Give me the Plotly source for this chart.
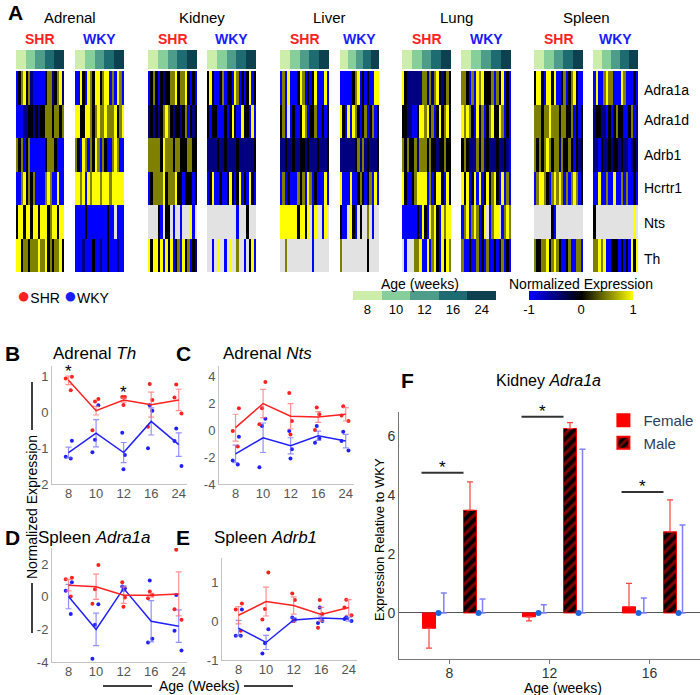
import numpy as np
import plotly.graph_objects as go

W, H = 700, 695
FONT = "Liberation Sans, Arial, sans-serif"

# ---------------- data ----------------
genes = ["Adra1a", "Adra1d", "Adrb1", "Hcrtr1", "Nts", "Th"]
tissues = ["Adrenal", "Kidney", "Liver", "Lung", "Spleen"]
strains = ["SHR", "WKY"]
ages = [8, 10, 12, 16, 24]
age_colors = ["#cdeeaa", "#86cf9b", "#4e9c8a", "#1e6b72", "#0e4150"]

# heatmap cell codes: B=-1, b=-0.5, k=0, o=0.5, Y=1, .=missing
code_values = {"B": -1.0, "b": -0.5, "k": 0.0, "o": 0.5, "Y": 1.0, ".": None}

heat_adrenal_shr = ["BkoYkobBBBBBkoobkoYb", "BBBbbkkbkbkkoookooko", "okoBkoBBBBBBkoookBBB",
                    "BBoYkokoBBBBoYoBBYBB", "kYYkYYkYYkYYYkoYYkYY", "YYkookoooYooYkokooYk"]
heat_adrenal_wky = ["BBYkBYokYYkoYYBoBYoB", "YYkkYYokoYooYoooYkoY", "okBYoBokYoBokBBoYoBB",
                    "YYoYBYoYYYoYYYoYYYYY", "BBBBkBBBBBBBBkBB.BBB", "BBBbBBBkBBbBBkBBBbBB"]
heat_kidney_shr = ["BkokBkbkkooYkooYkBkB", "bkbkbkoYokbkkbkoBkbk", "oooookYoookookkkookk",
                   "BkooooYkoooYkkBkkkBk", "....kB.kk.B..B...YB.", "YkYYkYBYkYBkoBYkoBkb"]
heat_kidney_wky = ["kYkBBkoBkkBYoBkBkYBk", "kBkkBBBkBkYkBBYkkBYB", "bbbbkbbkbbbbkbbbbbbk",
                   "BkYBBkBBkYkBkYBkBYkB", "............B...k...", "..B.Y..B.Y..o..B.kYB"]
heat_liver_shr = ["BoBYBBBkYoBkBkYBBBYB", "koB.BkBBkYoBkkoBBkBk", "bbkbbkbbkkbkbbbkbbbk",
                  "BoBkBBBokoBYoBkBBBYB", "YYYYYYYkYYkY.BY..BY.", "..o..........B......"]
heat_liver_wky = ["BBBBBkoYBkBkBBYY", "YkBYBYokBkoBkoBk", "bbbbbbkobobkbbbk",
                  "YBBBYBBkokBkoBYB", "kBB.YkB.k..o.B..", "o..........k...."]
heat_lung_shr = ["YkbbbbbbooboboYkbkok", "kkbbBBkYYoYkoBkYkoYk", "okokkoboookokkbkkokk",
                 "YkBBkoYYYYBoBkYYkBYk", "BBBBBBkBYkBYoYkBYoYY", ".B...ooYBBYBoYkBYkYo"]
heat_lung_wky = ["ookBoBYoYkkkoBokYBkB", "YoYokBYkoBkoYkkYoBkB", "kokbbbokobkbbbkbbkbB",
                 "YkYBkYBYBkYkoYkBYBoB", "BoYBoYoBkY.BoYY.BoYo", "oBBkBBoBkBoBBkBkoBkB"]
heat_spleen_shr = ["kYYkBYYkYBBkoBkoYkBB", "oookooYoookookkoBkBk", "okokoYokoobokkokBkbk",
                   "BoYYokBoYoYoBoBoYoBk", ".......kB...........", "okkooYkoYokBBkoBBooB"]
heat_spleen_wky = ["BYBBoYooBBBYoBBBkB", "bkkbbBkBkokkBBkoBb", "bbBkbbkbkkbkbbBbkb",
                   "BBYBBoBBYBBoBoBBkB", "k...............Y.", "ooYoYBBkkkBkBkBYkY"]

heat_blocks = {
    ("Adrenal", "SHR"): heat_adrenal_shr, ("Adrenal", "WKY"): heat_adrenal_wky,
    ("Kidney", "SHR"): heat_kidney_shr, ("Kidney", "WKY"): heat_kidney_wky,
    ("Liver", "SHR"): heat_liver_shr, ("Liver", "WKY"): heat_liver_wky,
    ("Lung", "SHR"): heat_lung_shr, ("Lung", "WKY"): heat_lung_wky,
    ("Spleen", "SHR"): heat_spleen_shr, ("Spleen", "WKY"): heat_spleen_wky,
}
expr_ticks = [-1, 0, 1]

# Panels B-E: mean, SE, individual points per age
b_shr_mean = [0.9, 0.05, 0.35, 0.22, 0.35]
b_shr_se = [0.12, 0.12, 0.06, 0.35, 0.3]
b_shr_pts = [[1.0, 0.95, 0.62], [0.38, 0.31, -0.5], [0.43, 0.43, 0.21], [0.8, 0.35, -0.4], [0.78, 0.42, -0.03]]
b_wky_mean = [-1.12, -0.58, -1.12, -0.25, -0.9]
b_wky_se = [0.15, 0.38, 0.28, 0.38, 0.33]
b_wky_pts = [[-0.79, -1.24, -1.29], [0.2, -0.76, -1.11], [-0.57, -1.19, -1.59], [0.2, 0.05, -1.0], [-0.45, -0.8, -1.5]]
b_sig_idx = [0, 2]
b_sig_y = [1.0, 0.43]

c_shr_mean = [0.2, 2.0, 1.05, 1.0, 1.2]
c_shr_se = [1.0, 1.05, 0.95, 0.4, 0.5]
c_shr_pts = [[1.65, -0.05, -1.2], [3.6, 1.65, 0.45], [2.78, 0.7, -0.3], [1.7, 1.2, 0.03], [1.8, 1.1, 0.7]]
c_wky_mean = [-1.75, -0.55, -1.15, -0.4, -0.8]
c_wky_se = [0.65, 1.1, 0.6, 0.35, 0.5]
c_wky_pts = [[-0.47, -2.25, -2.55], [0.87, 0.33, -2.75], [-0.05, -1.4, -2.1], [0.33, -0.6, -0.93], [-0.1, -0.8, -1.5]]

d_shr_mean = [0.72, 0.62, 0.1, 0.1, 0.18]
d_shr_se = [0.35, 0.77, 0.5, 0.12, 1.35]
d_shr_pts = [[1.18, 1.08, 0.02], [1.96, 0.47, -0.43], [0.9, -0.04, -0.6], [0.33, 0.12, -0.08], [2.9, -0.76, -1.4]]
d_wky_mean = [0.02, -2.0, 0.52, -1.5, -1.8]
d_wky_se = [0.75, 1.0, 0.15, 1.27, 1.0]
d_wky_pts = [[0.9, 0.37, -1.06], [-0.45, -1.71, -3.8], [0.63, 0.53, 0.43], [1.0, -2.57, -2.8], [0.12, -2.08, -3.3]]

e_shr_mean = [0.15, 0.5, 0.4, 0.17, 0.35]
e_shr_se = [0.22, 0.37, 0.22, 0.18, 0.2]
e_shr_pts = [[0.45, 0.3, -0.25], [1.25, 0.31, 0.04], [0.71, 0.54, 0.0], [0.54, 0.18, -0.17], [0.55, 0.35, 0.15]]
e_wky_mean = [-0.18, -0.55, 0.03, 0.08, 0.05]
e_wky_se = [0.2, 0.18, 0.05, 0.05, 0.05]
e_wky_pts = [[0.3, -0.38, -0.38], [-0.21, -0.57, -0.83], [0.09, 0.04, 0.0], [0.35, 0.0, -0.05], [0.1, 0.05, 0.0]]

# Panel F
f_ages = [8, 12, 16]
f_female = [-0.52, -0.13, 0.21]
f_female_err = [0.67, 0.14, 0.79]
f_male = [3.48, 6.25, 2.75]
f_male_err = [0.96, 0.2, 1.08]
f_wky_female_err = [0.68, 0.28, 0.51]
f_wky_male_err = [0.47, 5.55, 2.98]
f_sig_y = [4.75, 6.65, 4.1]

# ---------------- helpers ----------------
RED = "#ff2020"
BLUE = "#2020ff"
layout = {}
shapes = []
annotations = []
traces = []
_n = [0]


def new_axes(px0, px1, py0, py1, xa=None, ya=None):
    _n[0] += 1
    s = "" if _n[0] == 1 else str(_n[0])
    xa = dict(xa or {})
    ya = dict(ya or {})
    xa.update(domain=[px0 / W, px1 / W], anchor="y" + s)
    ya.update(domain=[1 - py1 / H, 1 - py0 / H], anchor="x" + s)
    layout["xaxis" + s] = xa
    layout["yaxis" + s] = ya
    return "x" + s, "y" + s


def text(x, y, t, size=14, color="black", xanchor="center", yanchor="middle", angle=0, **kw):
    annotations.append(dict(x=x / W, y=1 - y / H, xref="paper", yref="paper", text=t,
                            showarrow=False, xanchor=xanchor, yanchor=yanchor, textangle=angle,
                            font=dict(size=size, color=color, family=FONT), **kw))


def pline(x0, y0, x1, y1, color="black", width=1.5):
    shapes.append(dict(type="line", xref="paper", yref="paper", x0=x0 / W, x1=x1 / W,
                       y0=1 - y0 / H, y1=1 - y1 / H, line=dict(color=color, width=width)))


# ---------------- Panel A: heatmaps ----------------
block_px = {
    ("Adrenal", "SHR"): (16, 64), ("Adrenal", "WKY"): (75, 124),
    ("Kidney", "SHR"): (148, 197), ("Kidney", "WKY"): (207, 256),
    ("Liver", "SHR"): (280, 329), ("Liver", "WKY"): (340, 379),
    ("Lung", "SHR"): (402, 451), ("Lung", "WKY"): (461, 511),
    ("Spleen", "SHR"): (534, 583), ("Spleen", "WKY"): (593, 638),
}
heat_scale = [[0, "#0000ff"], [0.5, "#000000"], [1, "#ffff00"]]
age_scale = [[i / (len(age_colors) - 1), c] for i, c in enumerate(age_colors)]
hidden = dict(visible=False)

for (tissue, strain), rows in heat_blocks.items():
    x0, x1 = block_px[(tissue, strain)]
    z = [[code_values[c] for c in r] for r in rows]
    ncol = max(len(r) for r in rows)
    xr, yr = new_axes(x0, x1, 71, 272, dict(hidden, range=[-0.5, ncol - 0.5]),
                      dict(hidden, autorange="reversed"))
    shapes.append(dict(type="rect", xref=xr + " domain", yref=yr + " domain", x0=0, x1=1, y0=0, y1=1,
                       fillcolor="#e2e2e2", line_width=0, layer="below"))
    traces.append(go.Heatmap(z=z, y=genes, colorscale=heat_scale, zmin=-1, zmax=1, xaxis=xr, yaxis=yr,
                             showscale=False, hoverongaps=False))
    # age strip
    xr2, yr2 = new_axes(x0, x1, 50, 69, dict(hidden, range=[-0.5, 4.5]), dict(hidden))
    traces.append(go.Heatmap(z=[list(range(len(ages)))], colorscale=age_scale, zmin=0, zmax=len(ages) - 1,
                             showscale=False, xaxis=xr2, yaxis=yr2))
    text((x0 + x1) / 2, 39, "<b>%s</b>" % strain, size=14, color=RED if strain == "SHR" else "#1a1aff")

for tissue in tissues:
    xs = block_px[(tissue, "SHR")][0], block_px[(tissue, "WKY")][1]
    text((xs[0] + xs[1]) / 2, 17, tissue, size=15)

gene_y = [90, 120, 155, 188, 223, 259]
for g, gy in zip(genes, gene_y):
    text(642, gy, g, size=14, xanchor="left")

text(15, 12, "<b>A</b>", size=21)

legend_tick_font = dict(size=13, family=FONT, color="black")
# age legend
xr, yr = new_axes(353, 496, 291, 300,
                  dict(range=[-0.5, 4.5], tickvals=list(range(len(ages))), ticktext=[str(a) for a in ages],
                       ticks="", showline=False, showgrid=False, zeroline=False, tickfont=legend_tick_font),
                  dict(hidden))
traces.append(go.Heatmap(z=[list(range(len(ages)))], colorscale=age_scale, zmin=0, zmax=len(ages) - 1,
                         showscale=False, xaxis=xr, yaxis=yr))
text(420, 284, "Age (weeks)", size=14)

# expression colour key (smooth gradient between -1 and 1)
xr, yr = new_axes(529, 633, 291, 300,
                  dict(range=[expr_ticks[0], expr_ticks[-1]], tickvals=expr_ticks,
                       ticktext=[str(v) for v in expr_ticks], ticks="", showline=False, showgrid=False,
                       zeroline=False, tickfont=legend_tick_font),
                  dict(hidden))
traces.append(go.Heatmap(x=expr_ticks, z=[expr_ticks], colorscale=heat_scale, zmin=-1, zmax=1,
                         zsmooth="best", showscale=False, xaxis=xr, yaxis=yr))
text(581, 284, "Normalized Expression", size=14)

# SHR / WKY key
text(15, 296, '<span style="color:%s;font-size:22px">●</span>SHR '
              '<span style="color:#1a1aff;font-size:22px">●</span>WKY' % RED,
     size=14, xanchor="left")

# ---------------- Panels B-E ----------------
line_panels = [
    ("B", "Adrenal <i>Th</i>", (52, 187, 366, 484), [-2, 1.3], [-2, -1, 0, 1],
     (b_shr_mean, b_shr_se, b_shr_pts, b_wky_mean, b_wky_se, b_wky_pts), (12, 95, 353)),
    ("C", "Adrenal <i>Nts</i>", (219, 354, 366, 484), [-4, 4.8], [-4, -2, 0, 2, 4],
     (c_shr_mean, c_shr_se, c_shr_pts, c_wky_mean, c_wky_se, c_wky_pts), (183, 267, 353)),
    ("D", "Spleen <i>Adra1a</i>", (52, 187, 548, 662), [-4, 3.0], [-4, -2, 0, 2],
     (d_shr_mean, d_shr_se, d_shr_pts, d_wky_mean, d_wky_se, d_wky_pts), (12, 95, 537)),
    ("E", "Spleen <i>Adrb1</i>", (222, 357, 558, 660), [-1, 1.62], [-1, 0, 1],
     (e_shr_mean, e_shr_se, e_shr_pts, e_wky_mean, e_wky_se, e_wky_pts), (183, 265, 537)),
]
idx = list(range(len(ages)))
axis_common = dict(showline=True, linecolor="#c4c4c4", linewidth=1, ticks="", showgrid=False,
                   zeroline=False, tickfont=dict(size=13, family=FONT, color="#555"))
line_axes = {}
for lab, title, (x0, x1, y0, y1), yrng, yt, data, (lx, tx, ty) in line_panels:
    xr, yr = new_axes(x0, x1, y0, y1,
                      dict(axis_common, range=[-0.6, 4.3], tickvals=idx, ticktext=[str(a) for a in ages],
                           ticklabelstandoff=-3),
                      dict(axis_common, range=yrng, tickvals=yt, ticktext=[str(v) for v in yt]))
    line_axes[lab] = (xr, yr)
    s_mean, s_se, s_pts, w_mean, w_se, w_pts = data
    for mean, se, pts, col, ecol in [(w_mean, w_se, w_pts, BLUE, "rgba(110,110,255,0.75)"),
                                     (s_mean, s_se, s_pts, RED, "rgba(255,110,110,0.75)")]:
        px_ = [i for i, p in enumerate(pts) for _ in p]
        py_ = [v for p in pts for v in p]
        traces.append(go.Box(x=px_, y=py_, boxpoints="all", jitter=0.7, pointpos=0, width=0.45,
                             orientation="v", fillcolor="rgba(0,0,0,0)", line=dict(color="rgba(0,0,0,0)"),
                             marker=dict(color=col, size=4), showlegend=False, xaxis=xr, yaxis=yr))
        traces.append(go.Scatter(x=idx, y=mean, mode="lines", line=dict(color=col, width=1.5),
                                 error_y=dict(type="data", array=se, color=ecol, thickness=1.2, width=3),
                                 showlegend=False, xaxis=xr, yaxis=yr))
    text(lx, ty, "<b>%s</b>" % lab, size=21)
    text(tx, ty, title, size=17)

xr, yr = line_axes["B"]
for i, yv in zip(b_sig_idx, b_sig_y):
    annotations.append(dict(x=i, y=yv, xref=xr, yref=yr, text="*", showarrow=False, yanchor="middle",
                            yshift=5, font=dict(size=17, family=FONT, color="black")))

text(32, 507, "Normalized Expression", size=14, angle=-90)
pline(32, 382, 32, 430)
pline(32, 583, 32, 633)
text(199, 686, "Age (Weeks)", size=14)
pline(103, 686, 152, 686)
pline(244, 686, 293, 686)

# ---------------- Panel F ----------------
fx = np.arange(len(f_ages))
xr, yr = new_axes(399, 700, 412, 659,
                  dict(range=[-0.505, 2.505], tickvals=list(fx), ticktext=[str(a) for a in f_ages],
                       showline=True, linecolor="#777", ticks="outside", ticklen=4, tickcolor="#777",
                       ticklabelstandoff=-3,
                       showgrid=False, zeroline=False, tickfont=dict(size=14, family=FONT, color="#333")),
                  dict(range=[-1.56, 6.81], tickvals=[0, 2, 4, 6], showline=True, linecolor="#777",
                       ticks="", showgrid=False, zeroline=True, zerolinecolor="#555", zerolinewidth=1,
                       tickfont=dict(size=14, family=FONT, color="#333")))


def up_only(vals, errs):
    return [e if v >= 0 else 0 for v, e in zip(vals, errs)]


def down_only(vals, errs):
    return [e if v < 0 else 0 for v, e in zip(vals, errs)]


traces.append(go.Bar(x=fx, y=f_female, width=0.13, offset=-0.27, name="Female",
                     marker=dict(color="#ff0000", line=dict(color="#ff0000", width=1)),
                     error_y=dict(type="data", symmetric=False, array=up_only(f_female, f_female_err),
                                  arrayminus=down_only(f_female, f_female_err), color="#ff4040",
                                  thickness=1.2, width=3),
                     xaxis=xr, yaxis=yr))
traces.append(go.Bar(x=fx, y=f_male, width=0.13, offset=0.14, name="Male",
                     marker=dict(color="black", line=dict(color="#ff0000", width=1),
                                 pattern=dict(shape="/", fgcolor="#ff0000", bgcolor="black", size=7,
                                              solidity=0.45)),
                     error_y=dict(type="data", symmetric=False, array=up_only(f_male, f_male_err),
                                  arrayminus=down_only(f_male, f_male_err), color="#ff4040",
                                  thickness=1.2, width=3),
                     xaxis=xr, yaxis=yr))
zeros = [0] * len(f_ages)
for off_dot, off_err, errs in [(-0.11, -0.057, f_wky_female_err), (0.29, 0.33, f_wky_male_err)]:
    traces.append(go.Scatter(x=fx + off_err, y=zeros, mode="markers", marker=dict(size=1, color="rgba(0,0,0,0)"),
                             error_y=dict(type="data", symmetric=False, array=errs, arrayminus=zeros,
                                          color="#8080ff", thickness=1.5, width=3),
                             showlegend=False, xaxis=xr, yaxis=yr))
    traces.append(go.Scatter(x=fx + off_dot, y=zeros, mode="markers", marker=dict(size=6, color="#1f66d6"),
                             showlegend=False, xaxis=xr, yaxis=yr))
for i, sy in enumerate(f_sig_y):
    traces.append(go.Scatter(x=[i - 0.28, i + 0.14], y=[sy, sy], mode="lines",
                             line=dict(color="#333", width=2), showlegend=False, xaxis=xr, yaxis=yr))
    annotations.append(dict(x=i - 0.07, y=sy, xref=xr, yref=yr, text="*", showarrow=False, yanchor="middle",
                            yshift=5, font=dict(size=17, family=FONT, color="black")))

text(407, 381, "<b>F</b>", size=21)
text(548, 381, "Kidney <i>Adra1a</i>", size=16)
text(379, 540, "Expression Relative to WKY", size=13, angle=-90)
text(563, 688, "Age (weeks)", size=14)

fig = go.Figure(data=traces)
fig.update_layout(**layout)
fig.update_layout(width=W, height=H, margin=dict(l=0, r=0, t=0, b=0, pad=0, autoexpand=False),
                  paper_bgcolor="white", plot_bgcolor="white", shapes=shapes, annotations=annotations,
                  boxmode="overlay", font=dict(family=FONT), showlegend=True,
                  legend=dict(x=0.862, y=1 - 404 / H, xanchor="left", yanchor="top", bgcolor="rgba(0,0,0,0)",
                              font=dict(size=15, family=FONT), itemsizing="constant", tracegroupgap=2))
fig.write_html("out.html", config={"displayModeBar": False},
               post_script="document.body.style.margin='0';document.body.style.overflow='hidden';")
